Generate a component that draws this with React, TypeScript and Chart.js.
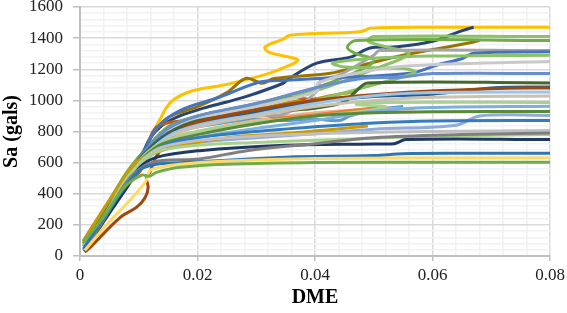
import { useEffect, useRef } from 'react';
import { Chart, registerables } from 'chart.js';

Chart.register(...registerables);

type Pt = [number, number];

// Tick settings
const xMajorTicks = [0, 0.02, 0.04, 0.06, 0.08];
const yMajorTicks = [0, 200, 400, 600, 800, 1000, 1200, 1400, 1600];

// Series colours (drawing order)
const seriesColors = [
  '#70AD47', '#FFD966', '#2E75B6', '#7F7F7F', '#1F3864', '#A9D18E', '#BFBFBF', '#CC9A00',
  '#327DC2', '#8FAADC', '#5A8A39', '#7CAFDD', '#A9D18E', '#C9C2B0', '#9DC3E6', '#9E480E',
  '#255E91', '#43682B', '#698ED0', '#C9C9C9', '#8CC168', '#4472C4', '#A5A5A5', '#70AD47',
  '#8CC168', '#997300', '#C55A11', '#ED7D31', '#F4B183', '#BF9000', '#5B9BD5', '#264478', '#FFC000',
];

const s01: Pt[] = [[0.0006, 90], [0.004, 250], [0.0075, 440], [0.0105, 520], [0.0118, 512], [0.013, 537], [0.017, 570], [0.025, 590], [0.04, 601], [0.06, 602], [0.08, 602]];
const s02: Pt[] = [[0.0008, 35], [0.0045, 200], [0.0068, 290], [0.0095, 400], [0.0112, 480], [0.0119, 548], [0.0136, 570], [0.017, 590], [0.025, 610], [0.04, 626], [0.06, 630], [0.08, 630]];
const s03: Pt[] = [[0.0006, 50], [0.004, 240], [0.008, 460], [0.0105, 560], [0.013, 590], [0.017, 600], [0.025, 615], [0.035, 635], [0.05, 645], [0.055, 657], [0.065, 660], [0.08, 660]];
const s04: Pt[] = [[0.0008, 40], [0.004, 230], [0.008, 480], [0.011, 580], [0.014, 613], [0.0204, 624], [0.0284, 677], [0.04, 722], [0.05, 760], [0.065, 780], [0.08, 790]];
const s05: Pt[] = [[0.0008, 30], [0.004, 220], [0.008, 440], [0.0102, 570], [0.013, 634], [0.0204, 677], [0.034, 710], [0.05, 720], [0.0535, 722], [0.0555, 748], [0.08, 748]];
const s06: Pt[] = [[0.0006, 60], [0.004, 250], [0.008, 500], [0.011, 620], [0.014, 680], [0.02, 712], [0.03, 730], [0.045, 750], [0.06, 770], [0.08, 781]];
const s07: Pt[] = [[0.0008, 40], [0.004, 240], [0.008, 490], [0.011, 630], [0.014, 700], [0.02, 742], [0.03, 770], [0.045, 790], [0.06, 800], [0.08, 806]];
const s08: Pt[] = [[0.0006, 95], [0.004, 300], [0.007, 470], [0.0095, 600], [0.012, 650], [0.016, 700], [0.025, 760], [0.036, 790], [0.042, 810], [0.049, 835]];
const s09: Pt[] = [[0.0008, 30], [0.004, 250], [0.008, 500], [0.0115, 640], [0.015, 720], [0.02, 760], [0.03, 800], [0.04, 830], [0.05, 855], [0.06, 868], [0.08, 871]];
const s10: Pt[] = [[0.0008, 30], [0.004, 230], [0.008, 470], [0.011, 610], [0.014, 690], [0.02, 730], [0.03, 760], [0.04, 785], [0.05, 815], [0.064, 840], [0.068, 900], [0.08, 903]];
const s11: Pt[] = [[0.0006, 80], [0.004, 280], [0.008, 520], [0.011, 640], [0.014, 720], [0.02, 780], [0.03, 850], [0.04, 900], [0.05, 920], [0.06, 927], [0.08, 929]];
const s12: Pt[] = [[0.0008, 35], [0.004, 240], [0.008, 490], [0.011, 630], [0.014, 700], [0.02, 760], [0.03, 820], [0.04, 870], [0.05, 930], [0.06, 955], [0.08, 963]];
const s13: Pt[] = [[0.0006, 70], [0.004, 270], [0.008, 510], [0.011, 650], [0.014, 730], [0.02, 800], [0.03, 860], [0.04, 900], [0.048, 930], [0.052, 960], [0.047, 975], [0.05, 987], [0.08, 987]];
const s14: Pt[] = [[0.0008, 30], [0.004, 230], [0.008, 470], [0.011, 620], [0.015, 760], [0.02, 830], [0.03, 900], [0.04, 960], [0.05, 1000], [0.06, 1020], [0.08, 1028]];
const s15: Pt[] = [[0.0008, 30], [0.004, 240], [0.008, 480], [0.011, 640], [0.015, 770], [0.02, 840], [0.03, 910], [0.04, 980], [0.05, 1030], [0.06, 1050], [0.08, 1054]];
const s16: Pt[] = [[0.0008, 25], [0.0017, 54], [0.0068, 247], [0.0096, 312], [0.0111, 376], [0.0116, 441], [0.0113, 505], [0.0119, 537], [0.013, 640], [0.016, 780], [0.02, 860], [0.03, 940], [0.04, 1000], [0.055, 1050], [0.07, 1075], [0.08, 1080]];
const s17: Pt[] = [[0.0006, 40], [0.004, 250], [0.008, 500], [0.011, 650], [0.015, 780], [0.02, 850], [0.03, 930], [0.04, 990], [0.05, 1025], [0.06, 1040], [0.07, 1080], [0.08, 1086]];
const s18: Pt[] = [[0.0006, 60], [0.004, 260], [0.008, 510], [0.011, 660], [0.015, 790], [0.02, 870], [0.03, 920], [0.04, 950], [0.045, 990], [0.047, 1060], [0.049, 1112], [0.08, 1112]];
const s19: Pt[] = [[0.0008, 30], [0.004, 250], [0.008, 500], [0.011, 670], [0.015, 820], [0.02, 900], [0.03, 980], [0.04, 1080], [0.048, 1140], [0.055, 1150], [0.06, 1172], [0.08, 1172]];
const s20: Pt[] = [[0.0008, 30], [0.004, 240], [0.008, 490], [0.011, 660], [0.015, 800], [0.02, 880], [0.03, 960], [0.038, 1030], [0.0405, 1065], [0.0405, 1110], [0.045, 1160], [0.055, 1220], [0.08, 1250]];
const s21: Pt[] = [[0.0006, 80], [0.004, 280], [0.008, 520], [0.011, 660], [0.015, 800], [0.02, 860], [0.03, 920], [0.04, 1000], [0.05, 1100], [0.057, 1180], [0.055, 1205], [0.045, 1215], [0.043, 1240], [0.05, 1270], [0.06, 1285], [0.08, 1290]];
const s22: Pt[] = [[0.0008, 30], [0.004, 250], [0.008, 510], [0.011, 680], [0.013, 820], [0.017, 935], [0.0238, 1021], [0.0306, 1118], [0.035, 1129], [0.0414, 1142], [0.0562, 1174], [0.0607, 1226], [0.0652, 1271], [0.067, 1303], [0.08, 1312]];
const s23: Pt[] = [[0.0008, 30], [0.004, 240], [0.008, 490], [0.011, 660], [0.015, 820], [0.02, 880], [0.029, 905], [0.035, 915], [0.0405, 1065], [0.041, 1130], [0.044, 1160], [0.05, 1290], [0.051, 1320], [0.08, 1320]];
const s24: Pt[] = [[0.0006, 90], [0.004, 290], [0.008, 540], [0.011, 680], [0.015, 830], [0.02, 900], [0.03, 980], [0.04, 1080], [0.048, 1200], [0.05, 1260], [0.047, 1300], [0.0455, 1340], [0.047, 1385], [0.08, 1385]];
const s25: Pt[] = [[0.0006, 70], [0.004, 270], [0.008, 520], [0.011, 670], [0.015, 810], [0.02, 880], [0.03, 960], [0.04, 1060], [0.05, 1200], [0.056, 1300], [0.052, 1345], [0.049, 1380], [0.05, 1410], [0.08, 1410]];
const s26: Pt[] = [[0.0006, 100], [0.004, 300], [0.008, 530], [0.011, 680], [0.0125, 790], [0.015, 890], [0.02, 960], [0.025, 1050], [0.0283, 1142], [0.031, 1110], [0.033, 1140], [0.0426, 1174], [0.048, 1226], [0.055, 1290], [0.0664, 1370], [0.068, 1385]];
const s27: Pt[] = [[0.0008, 30], [0.004, 220], [0.008, 450], [0.0105, 560], [0.0113, 677], [0.013, 828], [0.018, 871], [0.0255, 892], [0.0295, 935], [0.033, 1000], [0.0345, 1022], [0.04, 1005], [0.046, 1010]];
const s28: Pt[] = [[0.0008, 30], [0.004, 230], [0.008, 470], [0.011, 620], [0.014, 760], [0.02, 850], [0.022, 883], [0.03, 930], [0.033, 890], [0.038, 900], [0.045, 930], [0.052, 960]];
const s29: Pt[] = [[0.0008, 30], [0.004, 220], [0.008, 460], [0.011, 610], [0.014, 740], [0.02, 800], [0.03, 870], [0.04, 920], [0.05, 945], [0.057, 946]];
const s30: Pt[] = [[0.0006, 90], [0.004, 290], [0.008, 530], [0.011, 650], [0.015, 780], [0.02, 860], [0.03, 940], [0.036, 990], [0.04, 1010], [0.044, 1040], [0.047, 1054]];
const s31: Pt[] = [[0.0008, 30], [0.004, 240], [0.008, 490], [0.011, 650], [0.015, 770], [0.02, 830], [0.03, 880], [0.035, 870], [0.04, 880], [0.044, 870], [0.046, 900], [0.05, 940], [0.055, 960]];
const s32: Pt[] = [[0.0008, 30], [0.004, 250], [0.008, 500], [0.0105, 650], [0.012, 760], [0.014, 840], [0.017, 900], [0.021, 950], [0.025, 990], [0.0289, 1032], [0.0346, 1110], [0.0352, 1130], [0.0403, 1239], [0.046, 1278], [0.0494, 1336], [0.054, 1344], [0.06, 1380], [0.0652, 1450], [0.067, 1470]];
const s33: Pt[] = [[0.0008, 30], [0.004, 230], [0.008, 480], [0.0105, 640], [0.012, 760], [0.0135, 870], [0.0155, 990], [0.019, 1060], [0.024, 1095], [0.029, 1140], [0.0323, 1175], [0.0357, 1226], [0.0371, 1258], [0.0363, 1272], [0.032, 1312], [0.0315, 1344], [0.0346, 1394], [0.0357, 1419], [0.0477, 1441], [0.0494, 1463], [0.06, 1470], [0.08, 1470]];

const allSeries: Pt[][] = [
  s01, s02, s03, s04, s05, s06, s07, s08, s09, s10, s11, s12, s13, s14, s15, s16,
  s17, s18, s19, s20, s21, s22, s23, s24, s25, s26, s27, s28, s29, s30, s31, s32, s33,
];

const FONT = "'Liberation Serif', 'Times New Roman', serif";

const isMajor = (v: number, step: number) => Math.abs(v / step - Math.round(v / step)) < 1e-6;

export default function App() {
  const ref = useRef<HTMLCanvasElement | null>(null);

  useEffect(() => {
    document.body.style.margin = '0';
    const canvas = ref.current;
    if (!canvas) return;
    const chart = new Chart(canvas, {
      type: 'scatter',
      data: {
        datasets: allSeries.map((s, i) => ({
          label: 'S' + (i + 1),
          data: s.map(([x, y]) => ({ x, y })),
          showLine: true,
          borderColor: seriesColors[i % seriesColors.length],
          backgroundColor: seriesColors[i % seriesColors.length],
          borderWidth: 3,
          pointRadius: 0,
          tension: 0.35,
          fill: false,
        })),
      },
      options: {
        animation: false,
        responsive: true,
        maintainAspectRatio: false,
        layout: { padding: { top: 7, right: 17, bottom: 0, left: 0 } },
        plugins: { legend: { display: false }, tooltip: { enabled: false } },
        scales: {
          x: {
            type: 'linear',
            min: xMajorTicks[0],
            max: xMajorTicks[xMajorTicks.length - 1],
            afterFit: (s: any) => { s.height = 57; s.paddingLeft = 0; s.paddingRight = 0; },
            ticks: {
              stepSize: 0.004,
              autoSkip: false,
              maxRotation: 0,
              padding: 4,
              color: '#222',
              font: { family: FONT, size: 17 },
              callback: (v: any) => {
                const n = Number(v);
                if (!isMajor(n, 0.02)) return '';
                return n === 0 ? '0' : n.toFixed(2);
              },
            },
            grid: {
              color: (c: any) => (c.tick && isMajor(c.tick.value, 0.02) ? '#d9d9d9' : '#f2f2f2'),
              lineWidth: 1.5,
              tickLength: 5,
              tickColor: (c: any) => (c.tick && isMajor(c.tick.value, 0.02) ? '#bfbfbf' : 'rgba(0,0,0,0)'),
            },
            border: { color: '#bfbfbf', width: 2 },
            title: {
              display: true,
              text: 'DME',
              color: '#000',
              font: { family: FONT, size: 20, weight: 'bold' },
              padding: { top: 0, bottom: 3 },
            },
          },
          y: {
            type: 'linear',
            min: yMajorTicks[0],
            max: yMajorTicks[yMajorTicks.length - 1],
            afterFit: (s: any) => { s.width = 80; s.paddingTop = 0; s.paddingBottom = 0; },
            ticks: {
              stepSize: 40,
              autoSkip: false,
              padding: 10,
              color: '#222',
              font: { family: FONT, size: 17 },
              callback: (v: any) => {
                const n = Number(v);
                return isMajor(n, 200) ? String(n) : '';
              },
            },
            grid: {
              color: (c: any) => (c.tick && isMajor(c.tick.value, 200) ? '#d9d9d9' : '#f2f2f2'),
              lineWidth: 1.5,
              tickLength: 7,
              tickColor: (c: any) => (c.tick && isMajor(c.tick.value, 200) ? '#bfbfbf' : 'rgba(0,0,0,0)'),
            },
            border: { color: '#bfbfbf', width: 2 },
            title: {
              display: true,
              text: 'Sa (gals)',
              color: '#000',
              font: { family: FONT, size: 20, weight: 'bold' },
              padding: { top: 0, bottom: 0 },
            },
          },
        },
      } as any,
    });
    return () => chart.destroy();
  }, []);

  return (
    <div style={{ width: 567, height: 313, position: 'relative' }}>
      <canvas ref={ref} />
    </div>
  );
}
